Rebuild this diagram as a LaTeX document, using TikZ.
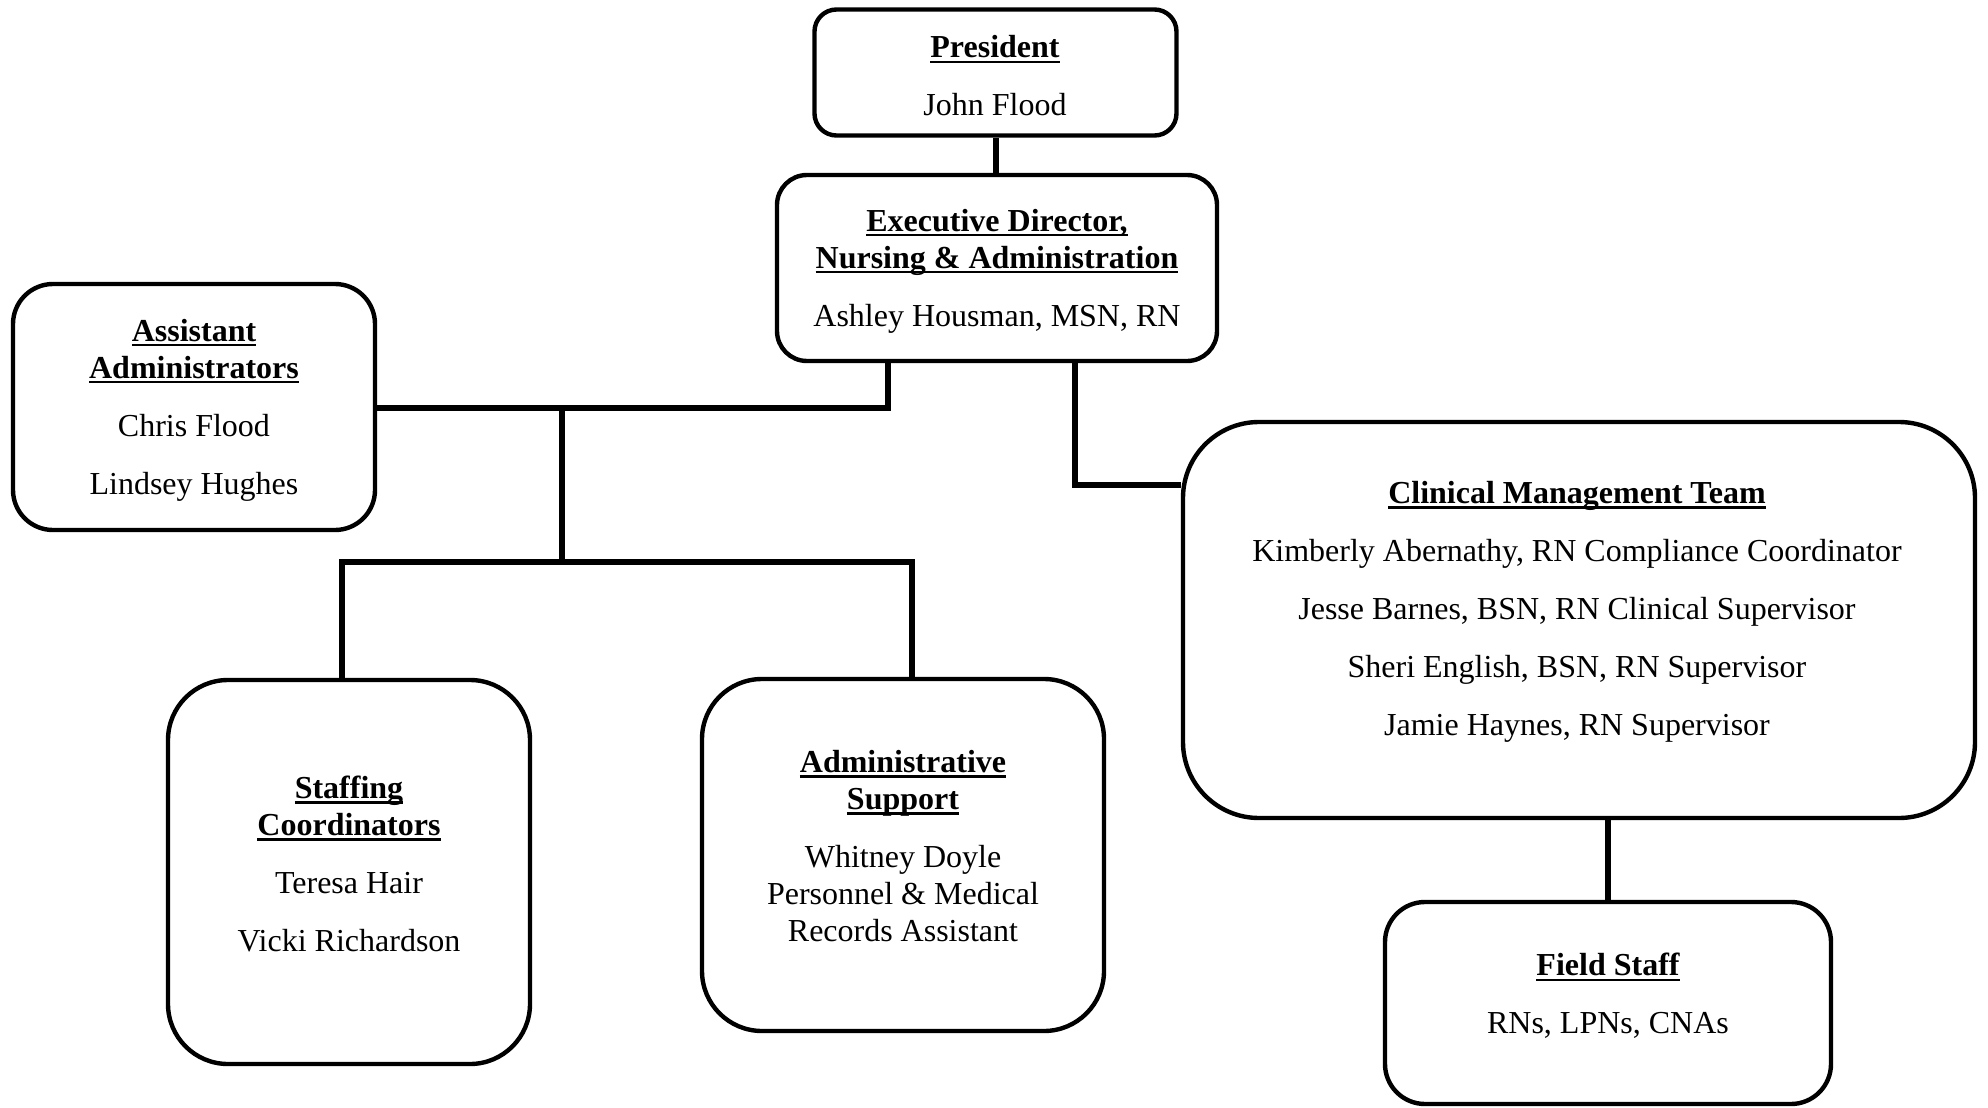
\documentclass[tikz,border=0pt]{standalone}
\usepackage{fontspec}
\setmainfont{Liberation Serif}
\usetikzlibrary{calc}
\tikzset{
  box/.style={draw, line width=2.2pt, rectangle, fill=none},
  conn/.style={line width=3pt},
  txt/.style={inner sep=0pt, align=center, font=\fontsize{16pt}{18.5pt}\selectfont},
}
\newcommand{\hd}[1]{\setbox0\hbox{\bfseries #1}\rlap{\rule[-2.6pt]{\wd0}{1.2pt}}\box0}
\begin{document}
\begin{tikzpicture}[x=0.5pt,y=-0.5pt]
\useasboundingbox (0,0) rectangle (1988,1108);
% boxes
\node[box, rounded corners=11pt, minimum width=181pt, minimum height=63pt] (pres) at (995.5,72.5) {};
\node[box, rounded corners=15pt, minimum width=220pt, minimum height=93pt] (exec) at (997,268) {};
\node[box, rounded corners=20pt, minimum width=181pt, minimum height=123pt] (asst) at (194,407) {};
\node[box, rounded corners=38pt, minimum width=396pt, minimum height=198pt] (clin) at (1579,620) {};
\node[box, rounded corners=30pt, minimum width=181pt, minimum height=192pt] (staff) at (349,872) {};
\node[box, rounded corners=30pt, minimum width=201pt, minimum height=176pt] (adm) at (903,855) {};
\node[box, rounded corners=20pt, minimum width=223pt, minimum height=101pt] (field) at (1608,1003) {};
% texts
\node[txt] (tpres) at (995,76) {\hd{President}\\[10.5pt] John Flood};
\node[txt] (texec) at (997,271) {\hd{Executive Director,}\\ \hd{Nursing \& Administration}\\[10.5pt] Ashley Housman, MSN, RN};
\node[txt] (tasst) at (194,410) {\hd{Assistant}\\ \hd{Administrators}\\[10.5pt] Chris Flood\\[10.5pt] Lindsey Hughes};
\node[txt] (tclin) at (1577,612) {\hd{Clinical Management Team}\\[10.5pt] Kimberly Abernathy, RN Compliance Coordinator\\[10.5pt] Jesse Barnes, BSN, RN Clinical Supervisor\\[10.5pt] Sheri English, BSN, RN Supervisor\\[10.5pt] Jamie Haynes, RN Supervisor};
\node[txt] (tstaff) at (349,864) {\hd{Staffing}\\ \hd{Coordinators}\\[10.5pt] Teresa Hair\\[10.5pt] Vicki Richardson};
\node[txt] (tadm) at (903,846) {\hd{Administrative}\\ \hd{Support}\\[10.5pt] Whitney Doyle\\ Personnel \& Medical\\ Records Assistant};
\node[txt] (tfield) at (1608,996) {\hd{Field Staff}\\[10.5pt] RNs, LPNs, CNAs};
% junction coordinates
\coordinate (ja) at (888,408);
\coordinate (jb) at (562,408);
\coordinate (jc) at (562,562);
\coordinate (js) at (342,562);
\coordinate (jm) at (912,562);
\coordinate (jd) at (1075,485);
% connectors
\draw[conn] (pres.south) -- (pres.south |- exec.north);
\draw[conn] (exec.south -| ja) -- (ja) -- (asst.east |- ja);
\draw[conn] (jb) -- (jc);
\draw[conn] (staff.north -| js) -- (js) -- (jm) -- (adm.north -| jm);
\draw[conn] (exec.south -| jd) -- (jd) -- (clin.west |- jd);
\draw[conn] (clin.south -| field.north) -- (field.north);
\end{tikzpicture}
\end{document}
